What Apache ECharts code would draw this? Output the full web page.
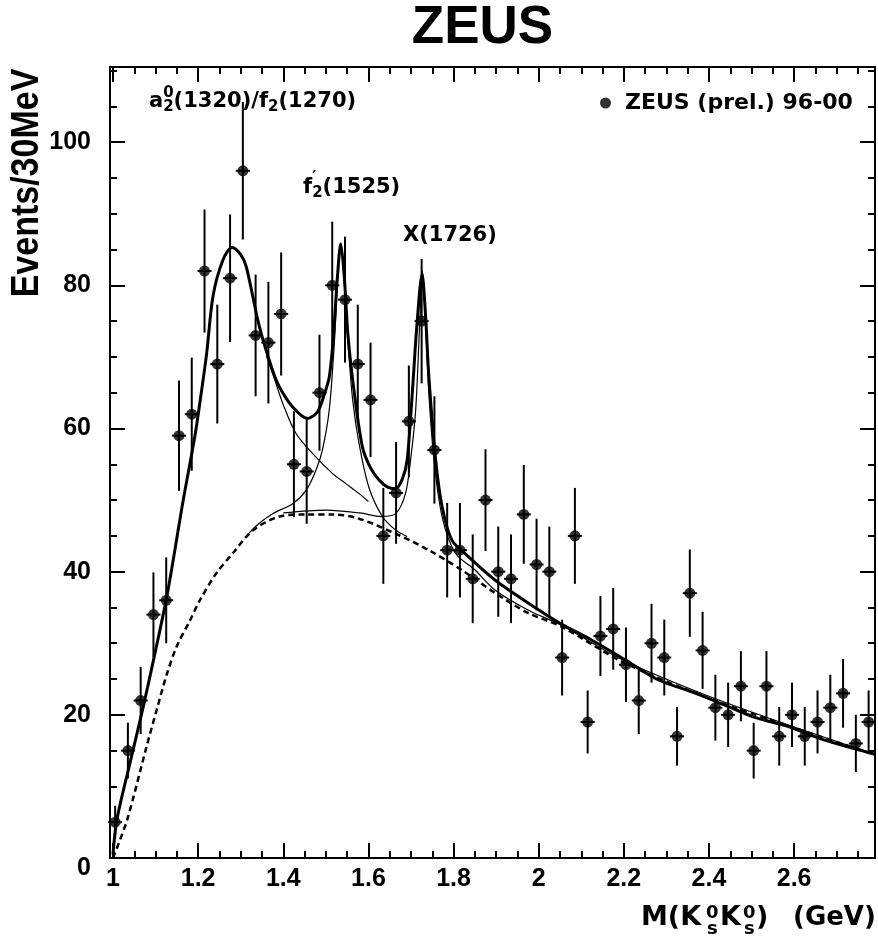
<!DOCTYPE html>
<html><head><meta charset="utf-8">
<script src="https://cdn.jsdelivr.net/npm/echarts/dist/echarts.min.js"></script>
<style>html,body{margin:0;padding:0;background:#fff}#c{width:878px;height:944px}</style>
</head><body><div id="c"></div><script>
// ---- data ----
const massGeV = [1.005,1.035,1.065,1.095,1.125,1.155,1.185,1.215,1.245,1.275,1.305,1.335,1.365,1.395,1.425,1.455,1.485,1.515,1.545,1.575,1.605,1.635,1.665,1.695,1.725,1.755,1.785,1.815,1.845,1.875,1.905,1.935,1.965,1.995,2.025,2.055,2.085,2.115,2.145,2.175,2.205,2.235,2.265,2.295,2.325,2.355,2.385,2.415,2.445,2.475,2.505,2.535,2.565,2.595,2.625,2.655,2.685,2.715,2.745,2.775];
const events = [5,15,22,34,36,59,62,82,69,81,96,73,72,76,55,54,65,80,78,69,64,45,51,61,75,57,43,43,39,50,40,39,48,41,40,28,45,19,31,32,27,22,30,28,17,37,29,21,20,24,15,24,17,20,17,19,21,23,16,19];
const errors = [2.3,3.9,4.7,5.9,6.0,7.7,7.9,8.6,8.3,8.9,9.6,8.5,8.5,8.6,7.4,7.3,8.1,8.9,8.8,8.3,8.0,6.7,7.1,7.8,8.7,7.5,6.6,6.6,6.2,7.1,6.3,6.2,6.9,6.4,6.3,5.3,6.7,4.4,5.6,5.7,5.2,4.7,5.5,5.3,4.1,6.1,5.4,4.6,4.5,4.9,3.9,4.9,4.1,4.5,4.1,4.4,4.6,4.8,4.0,4.4];

const totalFitX = [1.000,1.009,1.040,1.071,1.100,1.128,1.165,1.192,1.205,1.220,1.235,1.258,1.280,1.300,1.313,1.344,1.375,1.391,1.422,1.457,1.480,1.495,1.508,1.518,1.527,1.535,1.543,1.552,1.567,1.586,1.605,1.625,1.645,1.664,1.680,1.691,1.703,1.714,1.726,1.734,1.742,1.758,1.773,1.796,1.835,1.898,1.976,2.050,2.120,2.200,2.280,2.360,2.440,2.510,2.590,2.670,2.790];
const totalFitY = [0.5,5.3,13.3,21.1,29,37,50,58.8,64,70.5,78.5,83.5,85.3,84.3,82.6,74.2,68.1,65.8,63,61.4,62.3,64.5,67.2,73,81,85.8,81.5,73,64.9,57.4,54.5,52.8,51.8,51.6,53,55.6,64.9,74.5,81.6,76,67.2,55.6,49.1,44.4,42.1,38.8,35.6,32.8,30.6,27.8,24.9,23.2,21.3,19.6,18.3,16.5,14.5];

const backgroundX = [1.000,1.033,1.079,1.105,1.126,1.150,1.181,1.204,1.243,1.282,1.329,1.391,1.454,1.516,1.578,1.664,1.742,1.820,1.898,1.976,2.054,2.200,2.400,2.600,2.790];
const backgroundY = [0,5.3,15.6,21.2,25.6,29.6,33.2,36,39.8,42.6,45.8,47.7,48.0,48.0,47.4,45.3,43.0,40.2,37.0,34.2,32.3,27.3,22.3,18.2,14.4];

const f2TailX = [1.360,1.380,1.400,1.430,1.469,1.516,1.547,1.578,1.600];
const f2TailY = [70.2,66.8,63.3,59.3,56.5,53.7,52.3,50.9,49.8];

const f2pX = [1.320,1.340,1.375,1.422,1.454,1.477,1.492,1.508,1.520,1.528,1.535,1.543,1.552,1.563,1.578,1.601,1.633,1.664,1.691];
const f2pY = [45.4,46.6,48.1,49.5,51.4,54.2,57,62.6,72,81,85.3,80.5,72,64,57.9,51.8,47.7,45.8,44.9];

const x1726X = [1.400,1.500,1.580,1.630,1.664,1.687,1.699,1.711,1.720,1.727,1.734,1.742,1.754,1.773,1.804,1.851,1.898,1.976,2.054,2.200,2.400,2.600,2.790];
const x1726Y = [48.2,48.6,48.2,47.7,48.1,50.9,55.6,62.6,74,82,75,64.9,55.6,47.7,42.6,40.2,37.4,34.6,32.5,27.6,22.6,18.3,14.5];

const xTickLabels = ['1','1.2','1.4','1.6','1.8','2','2.2','2.4','2.6'];
const yTickLabels = ['0','20','40','60','80','100'];

// ---- build ----
const zip = (xs, ys) => xs.map((x, i) => [x, ys[i]]);
const pts = massGeV.map((m, i) => [m, events[i]]);
const bars = massGeV.map((m, i) => [m, events[i] - errors[i], events[i] + errors[i], events[i]]);

const mctx = document.createElement('canvas').getContext('2d');
function tw(t, font) { mctx.font = font; return mctx.measureText(t).width; }
function pieces(x0, yc, list) {
  let x = x0, prevX = x0;
  const out = [];
  list.forEach(p => {
    const fam = p.family || 'DejaVu Sans';
    const size = p.size || 21;
    const font = 'bold ' + size + 'px "' + fam + '"';
    const w = tw(p.t, font);
    const px = p.stack ? prevX : x;
    out.push({type: 'text', x: px, y: yc + (p.dy || 0), silent: true,
      style: {text: p.t, font: font, fill: '#000', align: 'left', verticalAlign: 'middle'}});
    if (p.stack) { x = Math.max(x, px + w); } else { prevX = px; x = px + w; }
  });
  return out;
}
function txt(t, x, y, size, fam, extra) {
  return Object.assign({type: 'text', x: x, y: y, silent: true,
    style: {text: t, font: 'bold ' + size + 'px "' + (fam || 'DejaVu Sans') + '"', fill: '#000', align: 'left', verticalAlign: 'middle'}}, extra || {});
}

const chart = echarts.init(document.getElementById('c'), null, {renderer: 'canvas'});
const tickStyle = {color: '#000', width: 2};
const labelFont = {fontFamily: 'Liberation Sans', fontWeight: 'bold', fontSize: 25, color: '#000'};
const isMult = (v, step) => Math.abs(v / step - Math.round(v / step)) < 1e-6;

const xCommon = {type: 'value', min: 1, max: 2.79, interval: 0.2, splitLine: {show: false}};
const yCommon = {type: 'value', min: 0, max: 110.5, splitLine: {show: false}};

const graphics = [].concat(
  [{type: 'text', x: 482.5, y: 28, silent: true,
    style: {text: 'ZEUS', font: 'bold 53px "Liberation Sans"', fill: '#000', align: 'center', verticalAlign: 'middle'}}],
  [{type: 'text', x: 27.5, y: 183, rotation: Math.PI / 2, scaleY: 1.15, silent: true,
    style: {text: 'Events/30MeV', font: 'bold 34px "Liberation Sans"', fill: '#000', align: 'center', verticalAlign: 'middle'}}],
  pieces(149, 101.5, [{t: 'a'}, {t: '0', size: 15, dy: -8}, {t: '2', size: 15, dy: 6, stack: true}, {t: '(1320)/f'}, {t: '2', size: 15, dy: 6}, {t: '(1270)'}]),
  pieces(303, 187.5, [{t: 'f'}, {t: '2', size: 15, dy: 6}, {t: '\u2032', size: 15, dy: -9, stack: true}, {t: '(1525)'}]),
  pieces(403, 236, [{t: 'X(1726)'}]),
  [txt('M(K', 641, 918, 27), txt('0', 706, 913, 18), txt('s', 707, 929, 18),
   txt('K', 720, 918, 27), txt('0', 743, 913, 18), txt('s', 744, 929, 18),
   txt(')', 756, 918, 27), txt('(GeV)', 793, 918, 26)],
  [{type: 'line', silent: true, shape: {x1: 109, y1: 858, x2: 114, y2: 858}, style: {stroke: '#000', lineWidth: 2}},
   {type: 'line', silent: true, shape: {x1: 109, y1: 67, x2: 114, y2: 67}, style: {stroke: '#000', lineWidth: 2}}]
);

chart.setOption({
  animation: false,
  backgroundColor: '#fff',
  grid: {left: 113, right: 1, top: 67, bottom: 86, containLabel: false},
  legend: {
    data: ['ZEUS (prel.) 96-00'], left: 595, top: 87, icon: 'circle', itemWidth: 11, itemHeight: 11,
    selectedMode: false,
    textStyle: {fontFamily: 'DejaVu Sans', fontWeight: 'bold', fontSize: 22, color: '#000', padding: [0, 0, 0, 9]}
  },
  xAxis: [
    Object.assign({}, xCommon, {
      position: 'bottom',
      axisLine: {show: true, onZero: false, lineStyle: tickStyle},
      axisTick: {show: true, inside: true, length: 15, lineStyle: tickStyle},
      minorTick: {show: true, splitNumber: 4, length: 7, lineStyle: tickStyle},
      axisLabel: Object.assign({}, labelFont, {margin: 9, showMaxLabel: true,
        formatter: v => { const s = String(+v.toFixed(1)); return (isMult(v, 0.2) && xTickLabels.indexOf(s) >= 0) ? s : ''; }})
    }),
    Object.assign({}, xCommon, {
      position: 'top',
      axisLine: {show: true, onZero: false, lineStyle: tickStyle},
      axisTick: {show: true, inside: true, length: 15, lineStyle: tickStyle},
      minorTick: {show: true, splitNumber: 4, length: 7, lineStyle: tickStyle},
      axisLabel: {show: false}
    })
  ],
  yAxis: [
    Object.assign({}, yCommon, {
      position: 'left', interval: 20, offset: 3,
      axisLine: {show: true, onZero: false, lineStyle: tickStyle},
      axisTick: {show: true, inside: true, length: 15, lineStyle: tickStyle},
      axisLabel: Object.assign({}, labelFont, {margin: 19, showMaxLabel: true,
        formatter: v => { const s = String(Math.round(v)); if (!isMult(v, 20) || yTickLabels.indexOf(s) < 0) return ''; return s === '0' ? '{z|0}' : s; },
        rich: {z: Object.assign({}, labelFont, {padding: [20, 0, 0, 0]})}})
    }),
    Object.assign({}, yCommon, {
      position: 'left', interval: 5, offset: 3,
      axisLine: {show: false},
      axisTick: {show: true, inside: true, length: 7, lineStyle: tickStyle},
      axisLabel: {show: false}
    }),
    Object.assign({}, yCommon, {
      position: 'right', interval: 20,
      axisLine: {show: true, onZero: false, lineStyle: tickStyle},
      axisTick: {show: true, inside: true, length: 15, lineStyle: tickStyle},
      axisLabel: {show: false}
    }),
    Object.assign({}, yCommon, {
      position: 'right', interval: 5,
      axisLine: {show: false},
      axisTick: {show: true, inside: true, length: 7, lineStyle: tickStyle},
      axisLabel: {show: false}
    })
  ],
  graphic: graphics,
  series: [
    {type: 'line', name: 'f2 tail', data: zip(f2TailX, f2TailY), showSymbol: false, smooth: 0.3, lineStyle: {color: '#000', width: 1.2}, silent: true, z: 2},
    {type: 'line', name: "f2'", data: zip(f2pX, f2pY), showSymbol: false, smooth: 0.3, lineStyle: {color: '#000', width: 1.2}, silent: true, z: 2},
    {type: 'line', name: 'X', data: zip(x1726X, x1726Y), showSymbol: false, smooth: 0.3, lineStyle: {color: '#000', width: 1.2}, silent: true, z: 2},
    {type: 'line', name: 'background', data: zip(backgroundX, backgroundY), showSymbol: false, smooth: 0.3, lineStyle: {color: '#000', width: 2.5, type: [6, 4]}, silent: true, z: 3},
    {type: 'line', name: 'fit', data: zip(totalFitX, totalFitY), showSymbol: false, smooth: 0.3, lineStyle: {color: '#000', width: 3}, silent: true, z: 4},
    {type: 'custom', name: 'err', data: bars, silent: true, z: 5,
      renderItem: (params, api) => {
        const lo = api.coord([api.value(0), api.value(1)]);
        const hi = api.coord([api.value(0), api.value(2)]);
        const c = api.coord([api.value(0), api.value(3)]);
        return {type: 'group', children: [
          {type: 'line', shape: {x1: lo[0], y1: lo[1], x2: hi[0], y2: hi[1]}, style: {stroke: '#000', lineWidth: 2}},
          {type: 'line', shape: {x1: c[0] - 7, y1: c[1], x2: c[0] + 7, y2: c[1]}, style: {stroke: '#000', lineWidth: 2}}
        ]};
      }},
    {type: 'scatter', name: 'ZEUS (prel.) 96-00', data: pts, symbol: 'circle', symbolSize: 11, itemStyle: {color: '#000'}, z: 6}
  ]
});
</script></body></html>
